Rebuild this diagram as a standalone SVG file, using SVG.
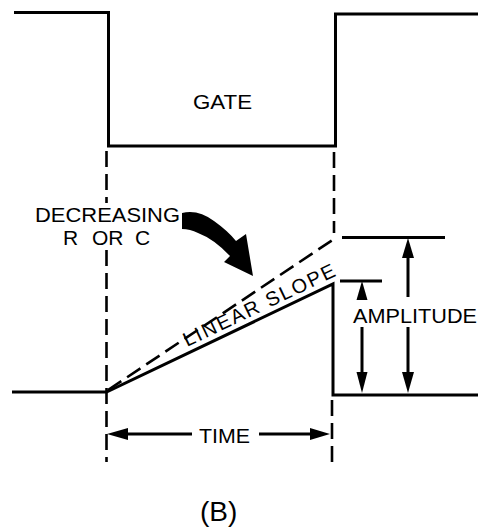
<svg xmlns="http://www.w3.org/2000/svg" width="478" height="529" viewBox="0 0 478 529">
<style>
.s{fill:none;stroke:#000;stroke-width:3;stroke-linecap:butt;stroke-linejoin:miter}
.d{fill:none;stroke:#000;stroke-width:2.6;stroke-dasharray:16 7}
.h{fill:#000;stroke:none}
.t{font-family:"Liberation Sans",Arial,Helvetica,sans-serif;font-size:20px;fill:#000}
</style>
<rect width="478" height="529" fill="#fff"/>
<g id="gate">
<path class="s" d="M14,12.5 H108.5 V146 H335.5 V14 H478"/>
<text class="t" x="193" y="109" textLength="59" lengthAdjust="spacingAndGlyphs">GATE</text>
</g>
<g id="ramp">
<path class="s" d="M12,392 H106.5 L333,284 V395 H478"/>
<text class="t" transform="translate(187,347) rotate(-25.5)" x="0" y="0" textLength="166" lengthAdjust="spacing">LINEAR SLOPE</text>
</g>
<g id="decreasing">
<text class="t" x="35" y="222" font-size="21" textLength="145" lengthAdjust="spacingAndGlyphs" style="font-size:21px">DECREASING</text>
<text class="t" y="245" style="font-size:21px"><tspan x="63">R</tspan><tspan x="92">OR</tspan><tspan x="135">C</tspan></text>
<path class="h" d="M182,213 Q198,209 214,221 Q228,231 236,241 L246,234 L253,276 L224,262 L230,256 Q214,239 198,233 Q190,229 182,229 Z"/>
</g>
<g id="connectors">
<path class="d" d="M106.5,151 V203"/>
<path class="d" d="M106.5,250 V462"/>
<path class="d" d="M334,152 V233"/>
<path class="d" d="M332,400 V462"/>
<path class="d" d="M108,390 L337,237"/>
<path class="s" d="M342,237.5 H445"/>
<path class="s" d="M340,281 H382"/>
<path class="s" d="M362,327 V372"/>
<path class="s" d="M408,258 V297 M408,327 V372"/>
<polygon class="h" points="362,281 356.5,300 367.5,300"/>
<polygon class="h" points="362,393 356.5,372 367.5,372"/>
<polygon class="h" points="408,238 402,258 414,258"/>
<polygon class="h" points="408,393 402,372 414,372"/>
<path class="s" d="M128,434 H192 M259,434 H310"/>
<polygon class="h" points="107,434 128,428 128,440"/>
<polygon class="h" points="330,434 310,428 310,440"/>
</g>
<g id="labels">
<text class="t" x="353" y="322.5" textLength="124" lengthAdjust="spacingAndGlyphs">AMPLITUDE</text>
<text class="t" x="199" y="443" textLength="51" lengthAdjust="spacingAndGlyphs">TIME</text>
<text class="t" x="200" y="521" style="font-size:28px">(B)</text>
</g>
</svg>
